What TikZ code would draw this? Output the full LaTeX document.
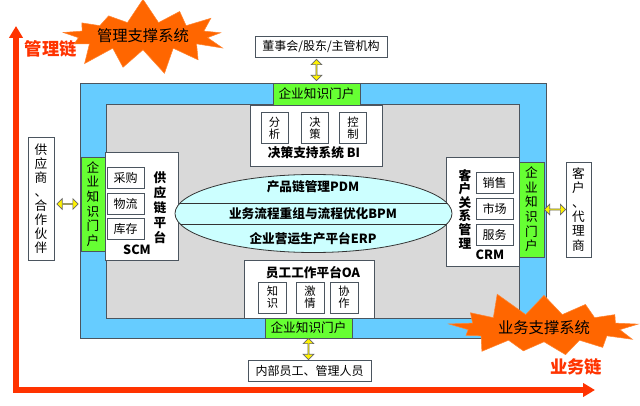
\documentclass[tikz,border=0pt]{standalone}
\usepackage{fontspec}
\setmainfont{Noto Sans CJK SC}
\usepackage{tikz}
\usetikzlibrary{arrows.meta,shapes.symbols,shapes.arrows,shapes.geometric}

\definecolor{frameblue}{RGB}{102,204,255}
\definecolor{innergray}{RGB}{217,217,217}
\definecolor{portalgreen}{RGB}{102,255,51}
\definecolor{ellcyan}{RGB}{204,255,255}
\definecolor{chainred}{RGB}{255,51,0}
\definecolor{burstorange}{RGB}{255,102,0}
\definecolor{edgegray}{RGB}{75,85,95}

\tikzset{
  box/.style={draw=edgegray, line width=0.6pt, fill=white, inner sep=0pt, align=center, font=\fontsize{9}{10.5}\selectfont},
  subbox/.style={box, font=\fontsize{9}{9}\selectfont},
  portal/.style={draw=edgegray, line width=0.6pt, fill=portalgreen, inner sep=0pt, align=center, font=\fontsize{9.5}{11}\selectfont},
  title/.style={font=\bfseries\fontsize{9.5}{11}\selectfont, inner sep=0pt, align=center},
  burst/.style={shape=starburst, fill=burstorange, draw=burstorange!80, starburst points=13, starburst point height=19pt, random starburst=7, inner xsep=0pt, inner ysep=2pt, font=\fontsize{11.5}{12}\selectfont},
  yarrow/.style={shape=double arrow, draw=black!60, fill=yellow, line width=0.5pt, inner sep=0pt, minimum width=8pt, minimum height=16pt, double arrow head extend=2pt},
  chain/.style={draw=chainred, line width=3.8pt, {Triangle[length=9pt,width=10pt]}-{Triangle[length=9pt,width=10pt]}},
  chainlabel/.style={text=chainred, inner sep=0pt, font=\bfseries\fontsize{13}{14}\selectfont}
}

\begin{document}
\begin{tikzpicture}[x=0.75pt,y=0.75pt,yscale=-1,xscale=1]
\useasboundingbox (0,0) rectangle (640,406);

%Straight Lines: the two chains
\coordinate (ytip) at (16,26);
\coordinate (xtip) at (595,390);
\draw[chain] (ytip) |- (xtip);
% Text Node
\node[chainlabel] (guanlilian) at (51,49) {管理链};
% Text Node
\node[chainlabel] (yewulian) at (576,367) {业务链};

%Shape: Rectangle, outer frame
\node[draw=edgegray, line width=0.6pt, fill=frameblue, minimum width=349.5pt, minimum height=191.25pt] (frame) at (313,210.5) {};
%Shape: Rectangle, inner area
\node[draw=edgegray, line width=0.6pt, fill=innergray, minimum width=309.75pt, minimum height=160.5pt] (inner) at (312.5,211) {};

%Shape: Rectangle, supply chain
\node[box, minimum width=54.75pt, minimum height=81pt] (scm) at (141.5,206) {};
\node[subbox, minimum width=27.75pt, minimum height=15.75pt] (caigou) at (125.5,177.5) {采购};
\node[subbox, minimum width=27.75pt, minimum height=15.75pt] (wuliu) at (125.5,203.5) {物流};
\node[subbox, minimum width=27.75pt, minimum height=15.75pt] (kucun) at (125.5,229) {库存};
\node[title, font=\bfseries\fontsize{9.5}{11.25}\selectfont] (scmtitle) at (160,207.5) {供\\应\\链\\平\\台};
\node[title] (scmlabel) at (137,250) {SCM};

%Shape: Rectangle, customers
\node[box, minimum width=54.75pt, minimum height=81.75pt] (crm) at (482.5,211.5) {};
\node[subbox, minimum width=27.75pt, minimum height=15.75pt] (xiaoshou) at (494.5,182.5) {销售};
\node[subbox, minimum width=27.75pt, minimum height=15.75pt] (shichang) at (494.5,208.5) {市场};
\node[subbox, minimum width=27.75pt, minimum height=15.75pt] (fuwu) at (494.5,235) {服务};
\node[title, font=\bfseries\fontsize{9.5}{10.2}\selectfont] (crmtitle) at (465,209) {客\\户\\关\\系\\管\\理};
\node[title] (crmlabel) at (490,255) {CRM};

%Shape: Ellipse
\node[ellipse, draw=black!80, line width=0.6pt, fill=ellcyan, minimum width=207.75pt, minimum height=58.5pt, inner sep=0pt] (core) at (313.5,213.5) {};
\begin{scope}
\clip (core.center) ellipse [x radius=138.5, y radius=39];
\draw[black!80, line width=0.6pt] (core.west |- 0,203) -- (core.east |- 0,203);
\draw[black!80, line width=0.6pt] (core.west |- 0,224) -- (core.east |- 0,224);
\end{scope}
% Text Node
\node[title] (pdm) at (313,187) {产品链管理PDM};
% Text Node
\node[title] (bpm) at (313,213.5) {业务流程重组与流程优化BPM};
% Text Node
\node[title] (erp) at (313,239) {企业营运生产平台ERP};

%Shape: Rectangle, decision support
\node[box, minimum width=99pt, minimum height=45.75pt] (bi) at (316,135.5) {};
\node[subbox, font=\fontsize{8.5}{8.8}\selectfont, minimum width=20.25pt, minimum height=23.25pt] (fenxi) at (274.5,128) {分\\析};
\node[subbox, font=\fontsize{8.5}{8.8}\selectfont, minimum width=20.25pt, minimum height=23.25pt] (juece) at (315,128) {决\\策};
\node[subbox, font=\fontsize{8.5}{8.8}\selectfont, minimum width=20.25pt, minimum height=23.25pt] (kongzhi) at (353,128) {控\\制};
\node[title] (bilabel) at (314,153) {决策支持系统 BI};

%Shape: Rectangle, office
\node[box, minimum width=97.5pt, minimum height=43.5pt] (oa) at (309,289) {};
\node[title] (oalabel) at (313,273) {员工工作平台OA};
\node[subbox, font=\fontsize{8.5}{8.8}\selectfont, minimum width=21.5pt, minimum height=23.25pt] (zhishi) at (272.5,297.5) {知\\识};
\node[subbox, font=\fontsize{8.5}{8.8}\selectfont, minimum width=21pt, minimum height=23.25pt] (jiqing) at (310,297.5) {激\\情};
\node[subbox, font=\fontsize{8.5}{8.8}\selectfont, minimum width=21pt, minimum height=23.25pt] (xiezuo) at (344,297.5) {协\\作};

%Shape: Rectangle, the four portals
\node[portal, minimum width=65.25pt, minimum height=16.5pt] (topportal) at (316.5,94) {企业知识门户};
\node[portal, minimum width=65.25pt, minimum height=15pt] (bottomportal) at (308.5,328) {企业知识门户};
\node[portal, minimum width=18pt, minimum height=70.5pt] (leftportal) at (93,204) {企\\业\\知\\识\\门\\户};
\node[portal, minimum width=18.75pt, minimum height=71.25pt] (rightportal) at (531.5,209.5) {企\\业\\知\\识\\门\\户};

%Shape: Rectangle, outside parties
\node[box, minimum width=99pt, minimum height=15.75pt] (dongshi) at (321,46.5) {董事会/股东/主管机构};
\node[box, minimum width=92.25pt, minimum height=15.75pt] (neibu) at (309.5,370.5) {内部员工、管理人员};
\node[box, font=\fontsize{9.5}{10.5}\selectfont, minimum width=19.5pt, minimum height=92.25pt] (gongying) at (41,198.5) {供\\应\\商\\、\\合\\作\\伙\\伴};
\node[box, font=\fontsize{9.5}{10.7}\selectfont, minimum width=18.75pt, minimum height=71.25pt] (kehu) at (578.5,209.5) {客\\户\\、\\代\\理\\商};

%Double arrows
\path (topportal.north |- dongshi.south) -- node[yarrow, rotate=90] (arrtop) {} (topportal.north);
\path (bottomportal.south) -- node[yarrow, rotate=90] (arrbottom) {} (bottomportal.south |- neibu.north);
\path (gongying.east |- leftportal.west) -- node[yarrow] (arrleft) {} (leftportal.west);
\path (rightportal.east) -- node[yarrow] (arrright) {} (rightportal.east -| kehu.west);

%Shape: Starbursts
\node[burst] (burstA) at (143,36) {管理支撑系统};
\node[burst, inner xsep=6pt, random starburst=11] (burstB) at (544,328) {业务支撑系统};

\end{tikzpicture}
\end{document}
